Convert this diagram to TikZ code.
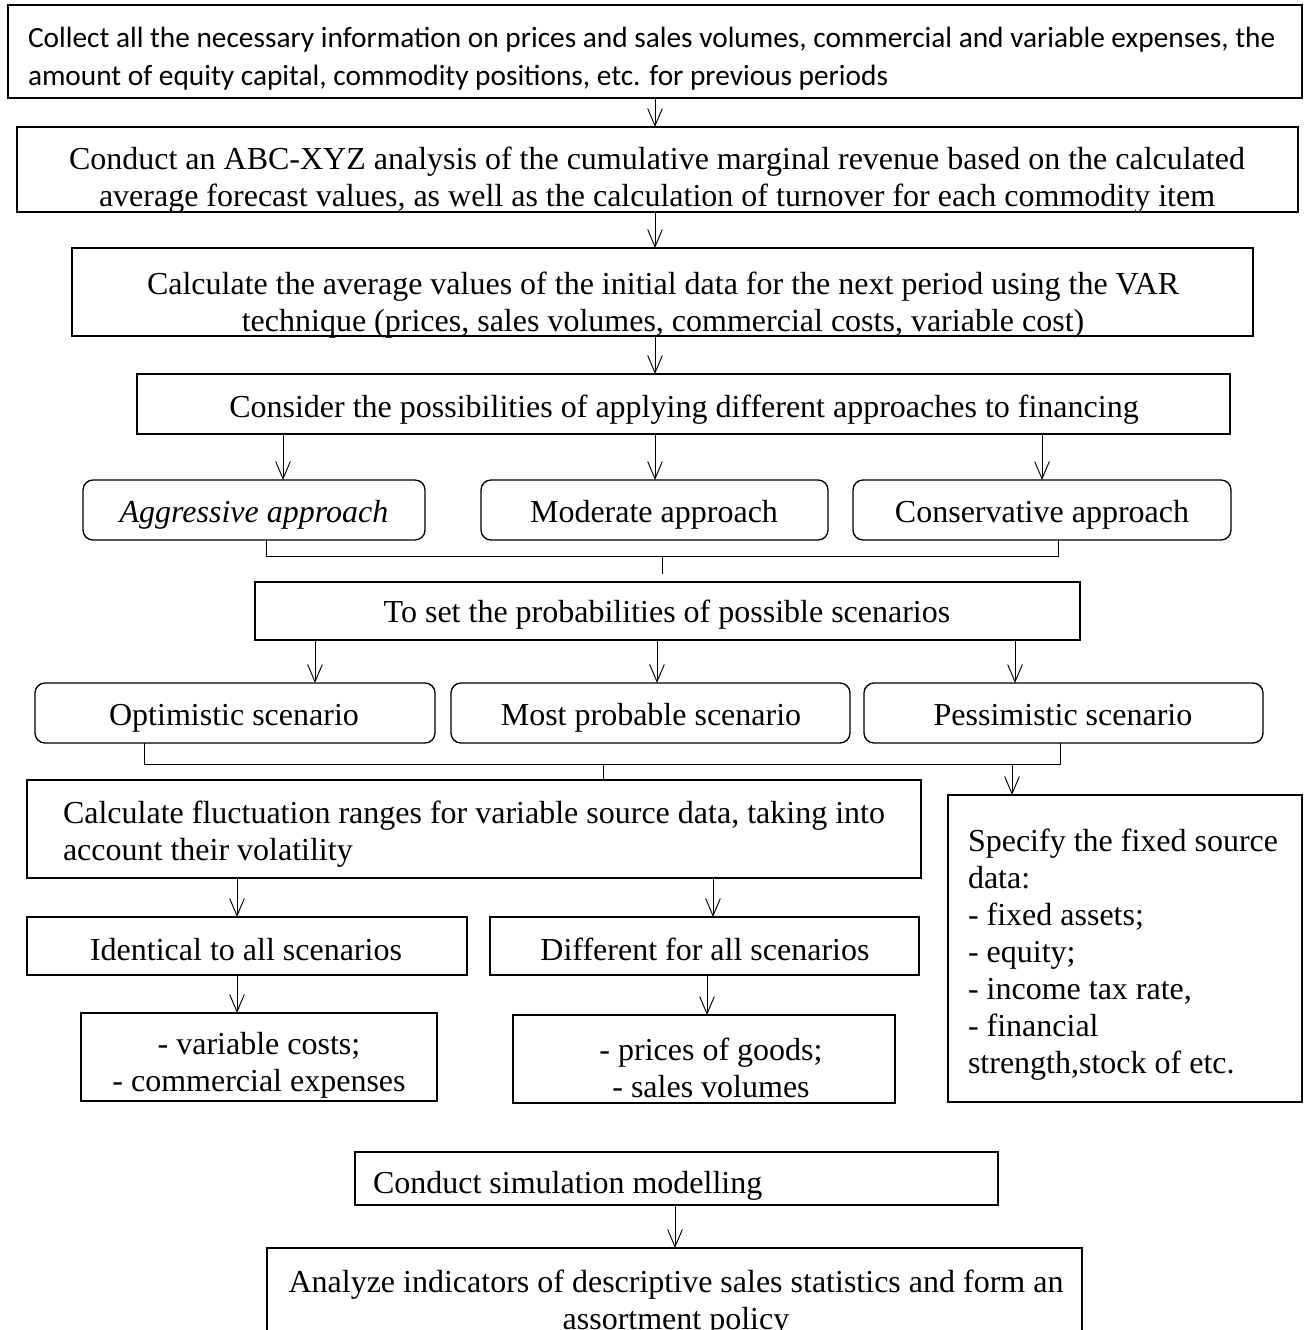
\documentclass[tikz,border=0pt]{standalone}
\usepackage{fontspec}
\setmainfont{Liberation Serif}
\newfontfamily\calib{Carlito}
\usetikzlibrary{arrows.meta}
\tikzset{
  box/.style={draw, line width=1pt, inner sep=0pt, outer sep=0pt},
  rbox/.style={box, rounded corners=7.5pt},
  txt/.style={inner sep=0pt, outer sep=0pt, font=\fontsize{24pt}{27.75pt}\selectfont},
  arr/.style={line width=0.7pt, -{Straight Barb[length=13pt,width=11pt]}},
  brk/.style={line width=0.7pt}
}
\newcommand\bx[6]{\node[#6, minimum width={(#4-#2)*0.75pt}, minimum height={(#5-#3)*0.75pt}] (#1) at ({(#2+#4)/2},{(#3+#5)/2}) {};}
\begin{document}
\begin{tikzpicture}[x=0.75pt,y=-0.75pt]
\useasboundingbox (0,0) rectangle (1310,1330);
% boxes
\bx{b1}{8}{5}{1302}{98}{box}
\bx{b2}{17}{127}{1298}{212}{box}
\bx{b3}{72}{248}{1253}{336}{box}
\bx{b4}{137}{374}{1230}{434}{box}
\bx{ag}{83}{480}{425}{540}{rbox}
\bx{mo}{481}{480}{828}{540}{rbox}
\bx{co}{853}{480}{1231}{540}{rbox}
\bx{pr}{255}{582}{1080}{640}{box}
\bx{op}{35}{683}{435}{743}{rbox}
\bx{mp}{451}{683}{850}{743}{rbox}
\bx{pe}{864}{683}{1263}{743}{rbox}
\bx{ca}{27}{780}{921}{878}{box}
\bx{sp}{948}{795}{1302}{1102}{box}
\bx{id}{27}{917}{467}{975}{box}
\bx{di}{490}{917}{919}{975}{box}
\bx{vc}{81}{1013}{437}{1101}{box}
\bx{pg}{513}{1015}{895}{1103}{box}
\bx{si}{355}{1152}{998}{1205}{box}
\bx{an}{267}{1248}{1082}{1400}{box}
% texts
\node[txt, anchor=west, align=left, font=\calib\fontsize{22pt}{28.5pt}\selectfont] (t1) at (28,59) {Collect all the necessary information on prices and sales volumes, commercial and variable expenses, the\\amount of equity capital, commodity positions, etc. for previous periods};
\node[txt, align=center] (t2) at (657,180) {Conduct an ABC-XYZ analysis of the cumulative marginal revenue based on the calculated\\average forecast values, as well as the calculation of turnover for each commodity item};
\node[txt, align=center] (t3) at (663,305) {Calculate the average values of the initial data for the next period using the VAR\\technique (prices, sales volumes, commercial costs, variable cost)};
\node[txt, anchor=base] (t4) at (684,417) {Consider the possibilities of applying different approaches to financing};
\node[txt, anchor=base] (t5) at (254,522) {\itshape Aggressive approach};
\node[txt, anchor=base] (t6) at (654,522) {Moderate approach};
\node[txt, anchor=base] (t7) at (1042,522) {Conservative approach};
\node[txt, anchor=base] (t8) at (667,622) {To set the probabilities of possible scenarios};
\node[txt, anchor=base] (t9) at (234,725) {Optimistic scenario};
\node[txt, anchor=base] (t10) at (651,725) {Most probable scenario};
\node[txt, anchor=base] (t11) at (1063,725) {Pessimistic scenario};
\node[txt, anchor=west, align=left] (t12) at (63,834) {Calculate fluctuation ranges for variable source data, taking into\\account their volatility};
\node[txt, anchor=west, align=left] (t13) at (968,955) {Specify the fixed source\\data:\\- fixed assets;\\- equity;\\- income tax rate,\\- financial\\strength,stock of etc.};
\node[txt, anchor=base] (t14) at (246,960) {Identical to all scenarios};
\node[txt, anchor=base] (t15) at (705,960) {Different for all scenarios};
\node[txt, align=center] (t16) at (259,1065) {- variable costs;\\- commercial expenses};
\node[txt, align=center] (t17) at (711,1068) {- prices of goods;\\- sales volumes};
\node[txt, anchor=base west] (t18) at (373,1193) {Conduct simulation modelling};
\node[txt, align=center] (t19) at (676,1303) {Analyze indicators of descriptive sales statistics and form an\\assortment policy};
% x coordinates
\foreach \n/\v in {a/655,b/283,c/1042,d/315,e/657,f/1015,g/237,h/713,i/707,j/675,k/266,l/1058,m/662,n/144,o/1060,p/603,q/1012}
  \coordinate (x\n) at (\v,0);
\coordinate (y1) at (0,556);
\coordinate (y2) at (0,764);
\coordinate (bt1) at (662,574);
% arrows
\draw[arr] (b1.south -| xa) -- (b2.north -| xa);
\draw[arr] (b2.south -| xa) -- (b3.north -| xa);
\draw[arr] (b3.south -| xa) -- (b4.north -| xa);
\draw[arr] (b4.south -| xb) -- (ag.north -| xb);
\draw[arr] (b4.south -| xa) -- (mo.north -| xa);
\draw[arr] (b4.south -| xc) -- (co.north -| xc);
\draw[brk] (ag.south -| xk) -- (y1 -| xk) -- (y1 -| xl) -- (co.south -| xl);
\draw[brk] (y1 -| xm) -- (bt1);
\draw[arr] (pr.south -| xd) -- (op.north -| xd);
\draw[arr] (pr.south -| xe) -- (mp.north -| xe);
\draw[arr] (pr.south -| xf) -- (pe.north -| xf);
\draw[brk] (op.south -| xn) -- (y2 -| xn) -- (y2 -| xo) -- (pe.south -| xo);
\draw[brk] (y2 -| xp) -- (ca.north -| xp);
\draw[arr] (y2 -| xq) -- (sp.north -| xq);
\draw[arr] (ca.south -| xg) -- (id.north -| xg);
\draw[arr] (ca.south -| xh) -- (di.north -| xh);
\draw[arr] (id.south -| xg) -- (vc.north -| xg);
\draw[arr] (di.south -| xi) -- (pg.north -| xi);
\draw[arr] (si.south -| xj) -- (an.north -| xj);
\end{tikzpicture}
\end{document}
